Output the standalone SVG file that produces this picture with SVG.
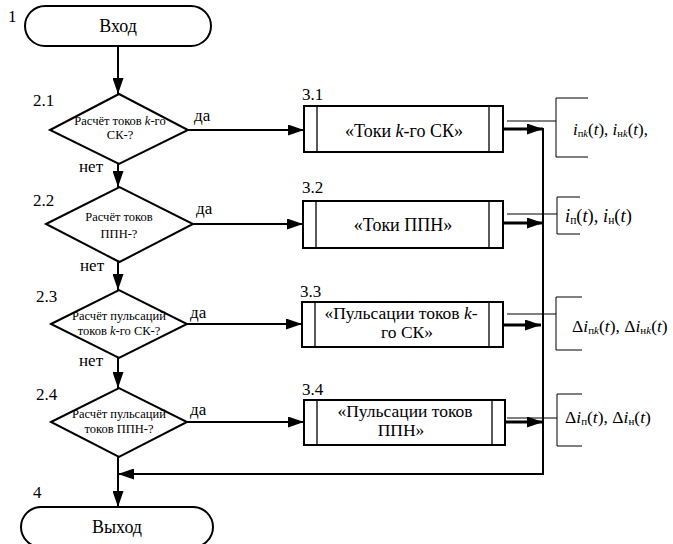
<svg xmlns="http://www.w3.org/2000/svg" width="673" height="544" viewBox="0 0 673 544" font-family="'Times New Roman', 'Liberation Serif', 'DejaVu Serif', serif">
<defs>
<marker id="arr" markerUnits="userSpaceOnUse" markerWidth="16" markerHeight="11" refX="16" refY="5.5" orient="auto"><path d="M0,0 L16,5.5 L0,11 z" fill="#000"/></marker>
</defs>
<style>
text{fill:#000}
.term,.dec,.box{fill:#fff;stroke:#000;stroke-width:2}
.inner{stroke:#000;stroke-width:1.3;fill:none}
.main{font-size:18px}
.box2{font-size:17.5px}
.dt{font-size:12.5px}
.lab{font-size:17px}
.ln{stroke:#000;stroke-width:2;fill:none}
.thick{stroke:#000;stroke-width:3;fill:none}
.thin{stroke:#000;stroke-width:1;fill:none}
.mid{text-anchor:middle}
.it{font-style:italic}
</style>
<g id="connectors">
<line class="ln" x1="118" y1="46" x2="118" y2="94" marker-end="url(#arr)"/>
<line class="ln" x1="118" y1="164" x2="118" y2="187" marker-end="url(#arr)"/>
<line class="ln" x1="118" y1="262" x2="118" y2="290" marker-end="url(#arr)"/>
<line class="ln" x1="118" y1="358" x2="118" y2="388" marker-end="url(#arr)"/>
<line class="ln" x1="118" y1="457" x2="118" y2="507" marker-end="url(#arr)"/>
<line class="ln" x1="188" y1="130" x2="304" y2="130" marker-end="url(#arr)"/>
<line class="ln" x1="193" y1="224" x2="303" y2="224" marker-end="url(#arr)"/>
<line class="ln" x1="187" y1="324" x2="302" y2="324" marker-end="url(#arr)"/>
<line class="ln" x1="187" y1="422" x2="304" y2="422" marker-end="url(#arr)"/>
<line class="thick" x1="503" y1="129" x2="543" y2="129" marker-end="url(#arr)"/>
<line class="thick" x1="503" y1="223" x2="543" y2="223" marker-end="url(#arr)"/>
<line class="thick" x1="503" y1="325" x2="541" y2="325" marker-end="url(#arr)"/>
<line class="thick" x1="505" y1="422" x2="543" y2="422" marker-end="url(#arr)"/>
<line class="ln" x1="543" y1="128" x2="543" y2="475"/>
<line class="ln" x1="544" y1="474" x2="118" y2="474" marker-end="url(#arr)"/>
<line class="thin" x1="507" y1="121" x2="556" y2="121"/>
<line class="thin" x1="507" y1="214" x2="557" y2="214"/>
<line class="thin" x1="507" y1="314" x2="556" y2="314"/>
<line class="thin" x1="507" y1="418" x2="557" y2="418"/>
<path class="thin" d="M588,98 H556 V157 H588"/>
<path class="thin" d="M580,197 H557 V234 H580"/>
<path class="thin" d="M582,297 H556 V350 H582"/>
<path class="thin" d="M582,394 H557 V446 H582"/>
<text class="lab" x="194" y="121">да</text>
<text class="lab" x="79" y="172">нет</text>
<text class="lab" x="196" y="214">да</text>
<text class="lab" x="80" y="271">нет</text>
<text class="lab" x="190" y="318">да</text>
<text class="lab" x="79" y="366">нет</text>
<text class="lab" x="190" y="415">да</text>
</g>
<g id="start">
<rect class="term" x="25" y="6" width="186" height="40" rx="20"/>
<text class="main mid" x="118" y="32">Вход</text>
<text class="lab" x="8" y="22">1</text>
</g>
<g id="d21">
<polygon class="dec" points="50,130 119,94 188,130 119,164"/>
<text class="dt mid" x="120" y="125">Расчёт токов <tspan class="it">k</tspan>-го</text>
<text class="dt mid" x="120" y="139">СК-?</text>
<text class="lab" x="33" y="106">2.1</text>
</g>
<g id="d22">
<polygon class="dec" points="46,224 119.5,187 193,224 119.5,262"/>
<text class="dt mid" x="119" y="221">Расчёт токов</text>
<text class="dt mid" x="119" y="238">ППН-?</text>
<text class="lab" x="33" y="206">2.2</text>
</g>
<g id="d23">
<polygon class="dec" points="51,324 119,290 187,324 119,358"/>
<text class="dt mid" x="119" y="320">Расчёт пульсаций</text>
<text class="dt mid" x="119" y="335">токов <tspan class="it">k</tspan>-го СК-?</text>
<text class="lab" x="36" y="302">2.3</text>
</g>
<g id="d24">
<polygon class="dec" points="51,422 119,388 187,422 119,457"/>
<text class="dt mid" x="119" y="418">Расчёт пульсаций</text>
<text class="dt mid" x="119" y="433">токов ППН-?</text>
<text class="lab" x="36" y="400">2.4</text>
</g>
<g id="p31">
<rect class="box" x="304" y="106" width="199" height="46"/>
<line class="inner" x1="317" y1="106" x2="317" y2="152"/>
<line class="inner" x1="489" y1="106" x2="489" y2="152"/>
<text class="main mid" x="404" y="137">«Токи <tspan class="it">k</tspan>-го СК»</text>
<text class="lab" x="302" y="100">3.1</text>
</g>
<g id="p32">
<rect class="box" x="303" y="201" width="200" height="47"/>
<line class="inner" x1="316" y1="201" x2="316" y2="248"/>
<line class="inner" x1="489" y1="201" x2="489" y2="248"/>
<text class="main mid" x="403" y="231">«Токи ППН»</text>
<text class="lab" x="302" y="193">3.2</text>
</g>
<g id="p33">
<rect class="box" x="302" y="302" width="201" height="45"/>
<line class="inner" x1="315" y1="302" x2="315" y2="347"/>
<line class="inner" x1="489" y1="302" x2="489" y2="347"/>
<text class="box2 mid" x="401" y="319">«Пульсации токов <tspan class="it">k</tspan>-</text>
<text class="box2 mid" x="407" y="338">го СК»</text>
<text class="lab" x="300" y="297">3.3</text>
</g>
<g id="p34">
<rect class="box" x="304" y="400" width="201" height="45"/>
<line class="inner" x1="317" y1="400" x2="317" y2="445"/>
<line class="inner" x1="492" y1="400" x2="492" y2="445"/>
<text class="box2 mid" x="405" y="417">«Пульсации токов</text>
<text class="box2 mid" x="401" y="436">ППН»</text>
<text class="lab" x="302" y="395">3.4</text>
</g>
<g id="end">
<rect class="term" x="21" y="507" width="192" height="40" rx="20"/>
<text class="main mid" x="117" y="533">Выход</text>
<text class="lab" x="33" y="498">4</text>
</g>
<g id="outputs">
<text x="573" y="135" font-size="17"><tspan class="it">i</tspan><tspan font-size="10.5" dy="2">п<tspan class="it">k</tspan></tspan><tspan dy="-2">(<tspan class="it">t</tspan>), </tspan><tspan class="it">i</tspan><tspan font-size="10.5" dy="2">н<tspan class="it">k</tspan></tspan><tspan dy="-2">(<tspan class="it">t</tspan>),</tspan></text>
<text x="565" y="222" font-size="18.5"><tspan class="it">i</tspan><tspan font-size="11.5" dy="2">п</tspan><tspan dy="-2">(<tspan class="it">t</tspan>), </tspan><tspan class="it">i</tspan><tspan font-size="11.5" dy="2">н</tspan><tspan dy="-2">(<tspan class="it">t</tspan>)</tspan></text>
<text x="572" y="332" font-size="17.5">Δ<tspan class="it">i</tspan><tspan font-size="11" dy="2">п<tspan class="it">k</tspan></tspan><tspan dy="-2">(<tspan class="it">t</tspan>), Δ</tspan><tspan class="it">i</tspan><tspan font-size="11" dy="2">н<tspan class="it">k</tspan></tspan><tspan dy="-2">(<tspan class="it">t</tspan>)</tspan></text>
<text x="565" y="423" font-size="17.5">Δ<tspan class="it">i</tspan><tspan font-size="11" dy="2">п</tspan><tspan dy="-2">(<tspan class="it">t</tspan>), Δ</tspan><tspan class="it">i</tspan><tspan font-size="11" dy="2">н</tspan><tspan dy="-2">(<tspan class="it">t</tspan>)</tspan></text>
</g>
</svg>
